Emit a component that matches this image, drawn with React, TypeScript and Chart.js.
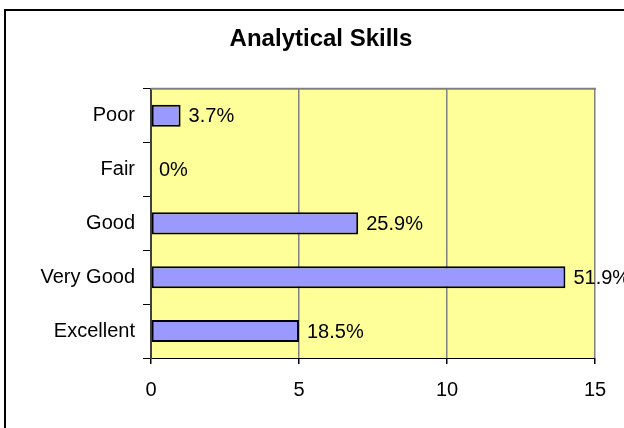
import React, { useEffect, useRef } from "react";
import { Chart, registerables } from "chart.js";

Chart.register(...registerables);

const categories = ["Poor", "Fair", "Good", "Very Good", "Excellent"];
const counts = [1, 0, 7, 14, 5];
const percentLabels = ["3.7%", "0%", "25.9%", "51.9%", "18.5%"];
const xTicks = [0, 5, 10, 15];

const FONT = '"Liberation Sans", Arial, Helvetica, sans-serif';

const plotBg = {
  id: "plotBg",
  afterLayout(chart: any) {
    // let the category labels use the free space on the left (no clipping)
    const y = chart.scales.y;
    if (y) y.left = 0;
  },
  beforeDraw(chart: any) {
    const { ctx, chartArea } = chart;
    ctx.save();
    ctx.fillStyle = "#FFFF99";
    ctx.fillRect(chartArea.left, chartArea.top, chartArea.right - chartArea.left, chartArea.bottom - chartArea.top);
    ctx.restore();
  },
  beforeDatasetsDraw(chart: any) {
    const { ctx, chartArea } = chart;
    ctx.save();
    ctx.strokeStyle = "#808080";
    ctx.lineWidth = 2;
    ctx.beginPath();
    ctx.moveTo(chartArea.left, chartArea.top);
    ctx.lineTo(chartArea.right + 1, chartArea.top);
    ctx.stroke();
    ctx.restore();
  },
};

const valueLabels = {
  id: "valueLabels",
  afterDatasetsDraw(chart: any) {
    const { ctx } = chart;
    const meta = chart.getDatasetMeta(0);
    ctx.save();
    ctx.font = `20px ${FONT}`;
    ctx.fillStyle = "#000";
    ctx.textAlign = "left";
    ctx.textBaseline = "middle";
    meta.data.forEach((el: any, i: number) => {
      ctx.fillText(percentLabels[i], el.x + 8, el.y + 1);
    });
    ctx.restore();
  },
};

export default function App() {
  const ref = useRef<HTMLCanvasElement>(null);
  useEffect(() => {
    if (!ref.current) return;
    const chart = new Chart(ref.current, {
      type: "bar",
      data: {
        labels: categories,
        datasets: [
          {
            data: counts,
            backgroundColor: "#9999FF",
            borderColor: "#000000",
            borderWidth: 2,
            borderSkipped: false,
            categoryPercentage: 1,
            barPercentage: 0.41,
          },
        ],
      },
      options: {
        indexAxis: "y",
        animation: false,
        responsive: false,
        layout: { padding: { left: 47, right: 29, top: 0, bottom: 0 } },
        plugins: {
          legend: { display: false },
          tooltip: { enabled: false },
          title: {
            display: true,
            text: "Analytical Skills",
            color: "#000",
            font: { family: FONT, size: 24, weight: "bold" },
            padding: { top: 25, bottom: 35 },
          },
        },
        scales: {
          x: {
            type: "linear",
            min: 0,
            max: 15,
            afterBuildTicks(scale: any) {
              scale.ticks = xTicks.map((v) => ({ value: v }));
            },
            afterFit(scale: any) {
              scale.height = 70;
            },
            ticks: {
              color: "#000",
              font: { family: FONT, size: 20 },
              padding: 14,
              maxRotation: 0,
            },
            grid: {
              color: "#808080",
              lineWidth: 1.5,
              tickColor: "#000",
              tickLength: 6,
              drawTicks: true,
            },
            border: { color: "#000", width: 1 },
          },
          y: {
            type: "category",
            offset: true,
            afterFit(scale: any) {
              scale.width = 104;
            },
            ticks: {
              color: "#000",
              font: { family: FONT, size: 20 },
              padding: 8,
            },
            grid: {
              offset: true,
              drawOnChartArea: false,
              drawTicks: true,
              tickLength: 8,
              tickColor: "#000",
              color: "#000",
            },
            border: { color: "#404040", width: 2 },
          },
        },
      },
      plugins: [plotBg, valueLabels],
    });
    return () => chart.destroy();
  }, []);

  return (
    <div
      style={{
        position: "fixed",
        left: 0,
        top: 0,
        width: 624,
        height: 428,
        overflow: "hidden",
        background: "#fff",
      }}
    >
      <div
        style={{
          position: "absolute",
          left: 4,
          top: 9,
          width: 660,
          height: 460,
          border: "2px solid #000",
        }}
      />
      <canvas
        ref={ref}
        width={624}
        height={428}
        style={{ position: "absolute", left: 0, top: 0, width: 624, height: 428 }}
      />
    </div>
  );
}
